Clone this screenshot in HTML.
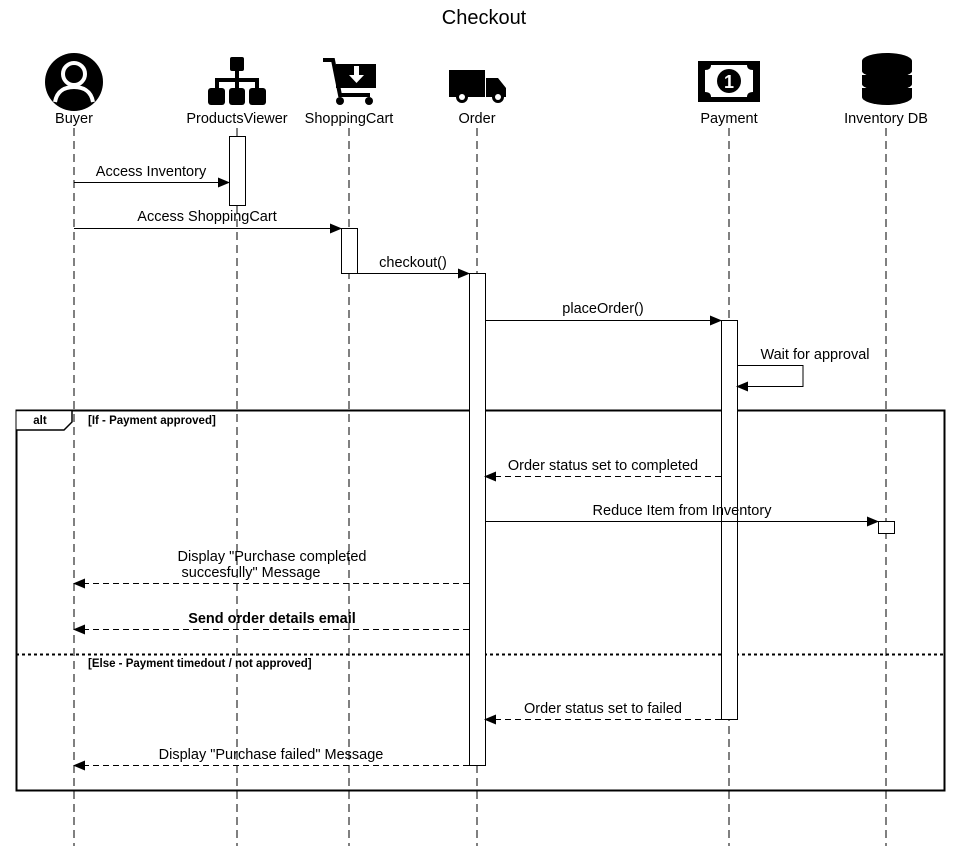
<!DOCTYPE html>
<html><head><meta charset="utf-8"><style>
html,body{margin:0;padding:0;background:#fff;}
svg{display:block;font-family:"Liberation Sans",Arial,sans-serif;}
</style></head><body>
<svg width="967" height="846" viewBox="0 0 967 846" xmlns="http://www.w3.org/2000/svg">
<defs>
<marker id="a" markerWidth="12" markerHeight="10" refX="11" refY="5" orient="auto" markerUnits="userSpaceOnUse"><path d="M0,0 L12,5 L0,10 Z" fill="#000"/></marker>
</defs>
<text x="484" y="24" font-size="20" text-anchor="middle">Checkout</text>

<circle cx="74" cy="82" r="29" fill="#000"/>
<circle cx="74" cy="74" r="11" fill="none" stroke="#fff" stroke-width="4"/>
<path d="M55,102 C57,90 66,87 74,87 C82,87 91,90 93,102" fill="none" stroke="#fff" stroke-width="4"/>

<g fill="#000">
<rect x="230" y="57" width="14" height="14" rx="2"/>
<rect x="235" y="70" width="4" height="10"/>
<rect x="215" y="78" width="44" height="4"/>
<rect x="215" y="78" width="4" height="10"/><rect x="235" y="78" width="4" height="10"/><rect x="255" y="78" width="4" height="10"/>
<rect x="208" y="88" width="17" height="17" rx="3"/><rect x="229" y="88" width="16" height="17" rx="3"/><rect x="249" y="88" width="17" height="17" rx="3"/>
</g>

<g fill="#000">
<path d="M323,60 L333,60 L340,95 L370,95" fill="none" stroke="#000" stroke-width="4"/>
<rect x="336" y="64" width="40" height="24"/>
<circle cx="340" cy="101" r="4"/><circle cx="369" cy="101" r="4"/>
<path d="M354,66 h5 v9 h5 l-7.5,8 l-7.5,-8 h5 z" fill="#fff"/>
</g>

<g fill="#000">
<rect x="449" y="70" width="36" height="27"/>
<path d="M486,78 L498,78 L506,88 L506,97 L486,97 Z"/>
<circle cx="462" cy="97" r="6"/><circle cx="498" cy="97" r="6"/>
<circle cx="462" cy="97" r="3" fill="#fff"/><circle cx="498" cy="97" r="3" fill="#fff"/>
</g>

<g>
<rect x="698" y="61" width="62" height="41" fill="#000"/>
<path d="M705,70 q6,0 6,-5 h36 q0,5 6,5 v22 q-6,0 -6,5 h-36 q0,-5 -6,-5 z" fill="#fff"/>
<circle cx="729" cy="81" r="12" fill="#000"/>
<text x="729" y="88" font-size="18" font-weight="bold" fill="#fff" text-anchor="middle">1</text>
</g>

<g fill="#000">
<ellipse cx="887" cy="61" rx="25" ry="8"/>
<rect x="862" y="61" width="50" height="10"/><ellipse cx="887" cy="71" rx="25" ry="7"/>
<rect x="862" y="75" width="50" height="9"/><ellipse cx="887" cy="84" rx="25" ry="7"/>
<rect x="862" y="88" width="50" height="9"/><ellipse cx="887" cy="97" rx="25" ry="8"/>
</g>

<g font-size="14.5" text-anchor="middle">
<text x="74" y="123">Buyer</text>
<text x="237" y="123">ProductsViewer</text>
<text x="349" y="123">ShoppingCart</text>
<text x="477" y="123">Order</text>
<text x="729" y="123">Payment</text>
<text x="886" y="123">Inventory DB</text>
</g>

<g stroke="#000" stroke-dasharray="8,5" stroke-width="1">
<line x1="74" y1="128" x2="74" y2="846"/>
<line x1="237" y1="128" x2="237" y2="846"/>
<line x1="349" y1="128" x2="349" y2="846"/>
<line x1="477" y1="128" x2="477" y2="846"/>
<line x1="729" y1="128" x2="729" y2="846"/>
<line x1="886" y1="128" x2="886" y2="846"/>
</g>

<rect x="16.5" y="410.5" width="928" height="380" fill="none" stroke="#000" stroke-width="2"/>
<path d="M16.5,410.5 H72 V422 L64,430 H16.5" fill="#fff" stroke="#000" stroke-width="1.5"/>
<text x="40" y="424" font-size="11.5" font-weight="bold" text-anchor="middle">alt</text>
<text x="88" y="424" font-size="11.5" font-weight="bold">[If - Payment approved]</text>
<line x1="16" y1="654.5" x2="944" y2="654.5" stroke="#000" stroke-width="2" stroke-dasharray="3,3"/>
<text x="88" y="667" font-size="11.5" font-weight="bold">[Else - Payment timedout / not approved]</text>

<g fill="#fff" stroke="#000">
<rect x="229.5" y="136.5" width="16" height="69"/>
<rect x="341.5" y="228.5" width="16" height="45"/>
<rect x="469.5" y="273.5" width="16" height="492"/>
<rect x="721.5" y="320.5" width="16" height="399"/>
<rect x="878.5" y="521.5" width="16" height="12"/>
</g>

<g stroke="#000" fill="none" stroke-width="1">
<line x1="74" y1="182.5" x2="229" y2="182.5" marker-end="url(#a)"/>
<line x1="74" y1="228.5" x2="341" y2="228.5" marker-end="url(#a)"/>
<line x1="357" y1="273.5" x2="469" y2="273.5" marker-end="url(#a)"/>
<line x1="485" y1="320.5" x2="721" y2="320.5" marker-end="url(#a)"/>
<polyline points="737,365.5 803,365.5 803,386.5 737,386.5" marker-end="url(#a)"/>
<line x1="721" y1="476.5" x2="485" y2="476.5" stroke-dasharray="6,4" marker-end="url(#a)"/>
<line x1="485" y1="521.5" x2="878" y2="521.5" marker-end="url(#a)"/>
<line x1="469" y1="583.5" x2="74" y2="583.5" stroke-dasharray="6,4" marker-end="url(#a)"/>
<line x1="469" y1="629.5" x2="74" y2="629.5" stroke-dasharray="6,4" marker-end="url(#a)"/>
<line x1="721" y1="719.5" x2="485" y2="719.5" stroke-dasharray="6,4" marker-end="url(#a)"/>
<line x1="469" y1="765.5" x2="74" y2="765.5" stroke-dasharray="6,4" marker-end="url(#a)"/>
</g>

<g font-size="14.5" text-anchor="middle">
<text x="151" y="176">Access Inventory</text>
<text x="207" y="221">Access ShoppingCart</text>
<text x="413" y="267">checkout()</text>
<text x="603" y="313">placeOrder()</text>
<text x="815" y="359">Wait for approval</text>
<text x="603" y="470">Order status set to completed</text>
<text x="682" y="515">Reduce Item from Inventory</text>
<text x="272" y="561">Display "Purchase completed</text>
<text x="251" y="577">succesfully" Message</text>
<text x="272" y="623" font-weight="bold">Send order details email</text>
<text x="603" y="713">Order status set to failed</text>
<text x="271" y="759">Display "Purchase failed" Message</text>
</g>
</svg>
</body></html>
